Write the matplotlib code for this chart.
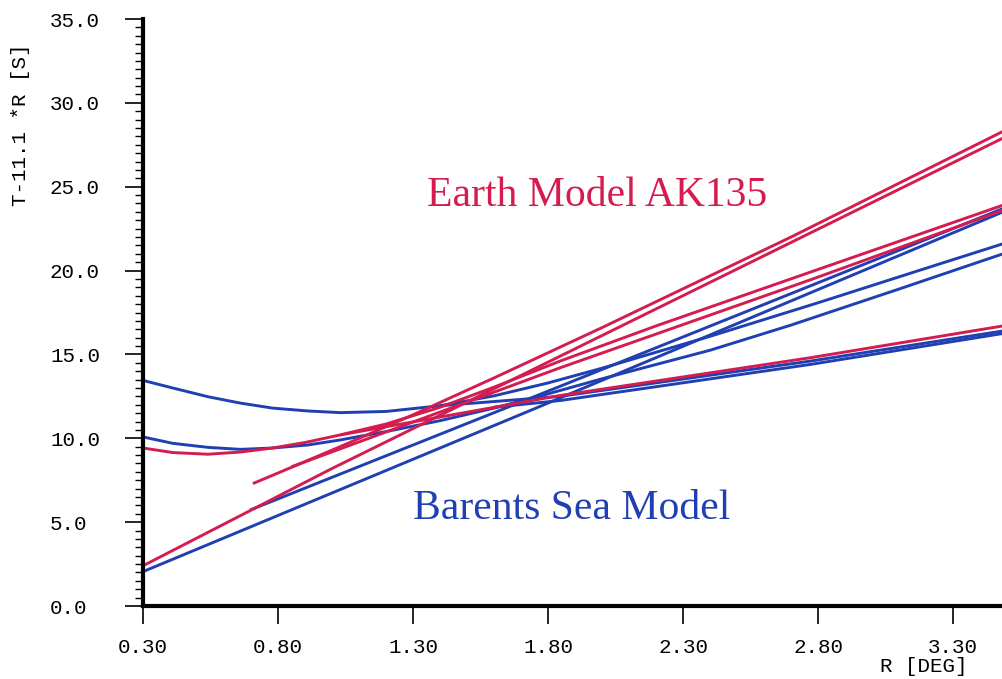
import matplotlib
matplotlib.use("Agg")
import matplotlib.pyplot as plt
from matplotlib.ticker import MultipleLocator, FormatStrFormatter

# Earth Model AK135 (червоні криві), R [deg] / T-11.1*R [s]
ak_pg_r = [0.30, 1.00, 3.485]
ak_pg_t = [2.40, 8.20, 27.90]

ak_conrad_r = [0.707, 0.85, 1.03, 1.30, 1.60, 2.00, 2.70, 3.485]
ak_conrad_t = [7.30, 8.27, 9.50, 11.40, 13.60, 16.60, 22.00, 28.30]

ak_pstar_r = [0.85, 1.844, 2.77, 3.485]
ak_pstar_t = [8.30, 14.20, 19.44, 23.60]

ak_pmp_r = [0.30, 0.41, 0.54, 0.66, 0.78, 0.90, 1.03, 1.20, 1.40, 1.60, 1.844, 2.20, 2.77, 3.485]
ak_pmp_t = [9.42, 9.15, 9.05, 9.18, 9.42, 9.75, 10.20, 10.85, 11.85, 13.05, 14.60, 16.70, 19.90, 23.90]

ak_pn_r = [1.03, 1.844, 2.77, 3.485]
ak_pn_t = [10.20, 12.55, 14.80, 16.70]

# Barents Sea Model (сині криві)
bs_refl1_r = [0.30, 0.41, 0.54, 0.66, 0.78, 0.91, 1.03, 1.20, 1.40, 1.60, 1.80, 2.00, 2.40, 2.80, 3.20, 3.485]
bs_refl1_t = [13.45, 13.00, 12.48, 12.10, 11.80, 11.63, 11.53, 11.60, 11.94, 12.53, 13.30, 14.18, 16.08, 18.08, 20.14, 21.60]

bs_refl2_r = [0.30, 0.41, 0.54, 0.66, 0.78, 0.91, 1.03, 1.20, 1.40, 1.60, 1.80, 2.00, 2.40, 2.70, 3.10, 3.485]
bs_refl2_t = [10.08, 9.70, 9.46, 9.34, 9.42, 9.60, 9.90, 10.40, 11.05, 11.80, 12.65, 13.55, 15.25, 16.75, 18.90, 21.00]

bs_pg_r = [0.30, 1.733, 3.485]
bs_pg_t = [2.05, 11.65, 23.50]

bs_head_r = [0.696, 1.733, 3.485]
bs_head_t = [5.72, 12.38, 23.70]

bs_pn1_r = [1.40, 1.844, 2.77, 3.485]
bs_pn1_t = [11.94, 12.50, 14.60, 16.40]

bs_pn2_r = [1.60, 1.844, 2.77, 3.485]
bs_pn2_t = [11.85, 12.25, 14.40, 16.25]

RED = "#d41c50"
BLUE = "#1f3fb2"

plt.rcParams['font.family'] = ['Liberation Mono', 'DejaVu Sans Mono']

fig = plt.figure(figsize=(10.03, 6.79), dpi=100)
ax = fig.add_axes([0.1426, 0.1075, 0.8574, 0.8645])

blue_curves = [(bs_refl1_r, bs_refl1_t), (bs_refl2_r, bs_refl2_t), (bs_pg_r, bs_pg_t),
               (bs_head_r, bs_head_t), (bs_pn1_r, bs_pn1_t), (bs_pn2_r, bs_pn2_t)]
red_curves = [(ak_pg_r, ak_pg_t), (ak_conrad_r, ak_conrad_t), (ak_pstar_r, ak_pstar_t),
              (ak_pmp_r, ak_pmp_t), (ak_pn_r, ak_pn_t)]

for r, t in blue_curves:
    ax.plot(r, t, color=BLUE, lw=2.1, solid_capstyle='butt', solid_joinstyle='round')
for r, t in red_curves:
    ax.plot(r, t, color=RED, lw=2.1, solid_capstyle='butt', solid_joinstyle='round')

ax.text(1.352, 23.85, "Earth Model AK135", color=RED, fontsize=30,
        family='Liberation Serif', ha='left', va='baseline')
ax.text(1.30, 5.19, "Barents Sea Model", color=BLUE, fontsize=30,
        family='Liberation Serif', ha='left', va='baseline')

ax.set_xlim(0.30, 3.485)
ax.set_ylim(0.0, 35.0)

ax.spines['top'].set_visible(False)
ax.spines['right'].set_visible(False)
ax.spines['left'].set_linewidth(3.0)
ax.spines['bottom'].set_linewidth(3.0)

ax.set_xticks([0.30, 0.80, 1.30, 1.80, 2.30, 2.80, 3.30])
ax.xaxis.set_major_formatter(FormatStrFormatter('%.2f'))
ax.yaxis.set_major_locator(MultipleLocator(5.0))
ax.yaxis.set_minor_locator(MultipleLocator(0.5))
ax.yaxis.set_major_formatter(FormatStrFormatter('%.1f'))

ax.tick_params(axis='x', direction='out', length=13, width=1.2, pad=10, labelsize=15)
ax.tick_params(axis='y', which='major', direction='out', length=13, width=1.2,
               pad=54, labelsize=15)
ax.tick_params(axis='y', which='minor', direction='out', length=6, width=1.0)
for lbl in ax.get_yticklabels():
    lbl.set_horizontalalignment('left')

fig.text(0.921, 0.019, "R [DEG]", fontsize=15, ha='center', va='center')
fig.text(0.020, 0.816, "T-11.1 *R [S]", fontsize=15, rotation=90, ha='center', va='center')

fig.savefig("out.png", dpi=100)
